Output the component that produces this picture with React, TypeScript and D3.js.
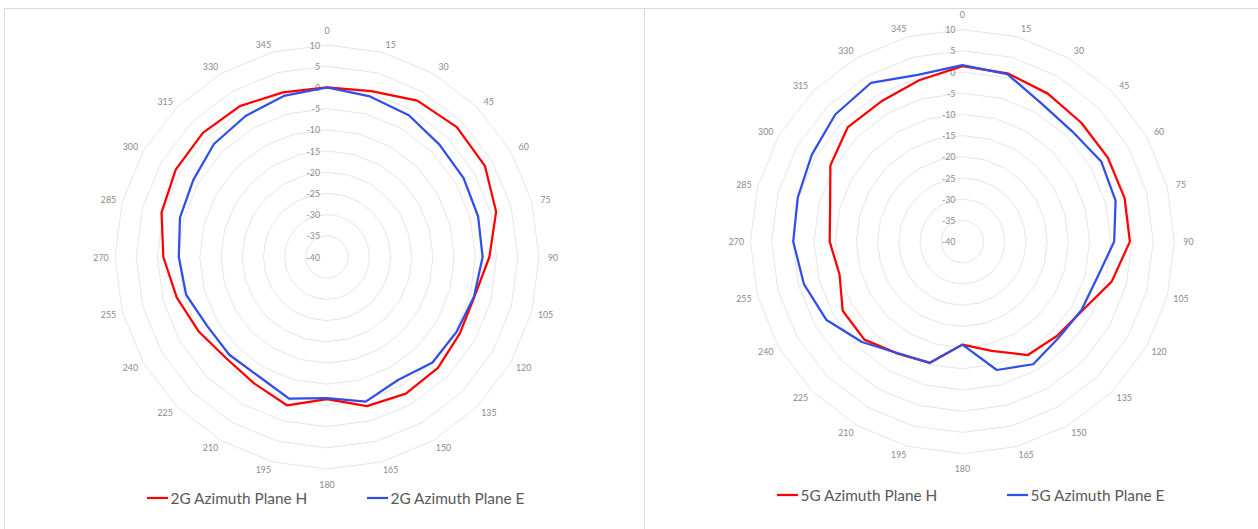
import React from 'react';
import * as d3 from 'd3';

const angles = [0, 15, 30, 45, 60, 75, 90, 105, 120, 135, 150, 165, 180, 195, 210, 225, 240, 255, 270, 285, 300, 315, 330, 345];

const plane2gH = [0, 0.5, 2.6, 3.3, 3.0, 1.3, -1.7, -4.0, -3.85, -3.0, -2.8, -3.6, -6.5, -3.75, -5.6, -6.3, -5.0, -3.3, -1.4, 0.4, 1.2, 1.4, 1.1, 0.2];
const plane2gE = [0, -0.8, -1.4, -2.5, -2.8, -3.1, -3.3, -4.1, -4.7, -4.8, -6.5, -4.7, -6.7, -5.4, -7.6, -7.4, -7.4, -5.6, -5.05, -4.1, -3.6, -2.3, -1.6, -0.66];
const plane5gH = [1.4, 1.1, 0.3, -0.35, -0.4, -0.4, -0.5, -3.55, -7.4, -8.5, -9.1, -13.3, -15.7, -10.4, -9.5, -7.3, -7.4, -10.0, -8.7, -7.7, -4.05, -1.8, -1.8, -0.6];
const plane5gE = [1.6, 0.9, -2.5, -3.3, -2.2, -2.6, -4.2, -7.1, -7.6, -7.9, -6.6, -8.65, -15.7, -10.4, -9.6, -6.5, -3.0, -1.3, -0.1, 0.2, 1.0, 2.4, 3.2, 0.7];

const radialTicks = [10, 5, 0, -5, -10, -15, -20, -25, -30, -35, -40];
const seriesNames2g = ['2G Azimuth Plane H', '2G Azimuth Plane E'];
const seriesNames5g = ['5G Azimuth Plane H', '5G Azimuth Plane E'];

const RED = '#ff0000';
const BLUE = '#2f4fe6';
const GRID = '#e6e6e6';
const TEXT = '#8a8a8a';
const FONT = 'Lato, "Open Sans", sans-serif';

const R = 212;

const rScale = d3.scaleLinear().domain([-40, 10]).range([0, R]);
const aScale = d3.scaleLinear().domain([0, 360]).range([0, 2 * Math.PI]);

const charts = [
  {
    cx: 327, cy: 257,
    series: [
      { name: seriesNames2g[0], values: plane2gH, color: RED },
      { name: seriesNames2g[1], values: plane2gE, color: BLUE },
    ],
    legendY: 498, legendX: [147, 367],
  },
  {
    cx: 962.4, cy: 241.6,
    series: [
      { name: seriesNames5g[0], values: plane5gH, color: RED },
      { name: seriesNames5g[1], values: plane5gE, color: BLUE },
    ],
    legendY: 495, legendX: [777, 1007],
  },
];

const radial = d3.lineRadial<number>()
  .angle((_, i) => aScale(angles[i]))
  .radius((d) => rScale(d))
  .curve(d3.curveLinearClosed);

function labelPos(a: number) {
  const th = aScale(a);
  let s = Math.sin(th);
  let c = Math.cos(th);
  if (Math.abs(s) < 1e-9) s = 0;
  if (Math.abs(c) < 1e-9) c = 0;
  const vx = R * s;
  const vy = -R * c;
  const dx = s === 0 ? 0 : Math.sign(s) * (7 + 7 * Math.abs(s));
  const dy = s === 0 ? -15 * Math.sign(c) : -8.5 * c;
  return [vx + dx, vy + dy];
}

function Radar({ chart }: { chart: typeof charts[number] }) {
  const { cx, cy } = chart;
  return (
    <g>
      <g transform={`translate(${cx},${cy})`}>
        {radialTicks.filter((t) => t > -40).map((t) => (
          <path key={t} d={radial(angles.map(() => t)) || ''} fill="none" stroke={GRID} strokeWidth={1} />
        ))}
        {radialTicks.map((t) => (
          <text key={'t' + t} x={-7} y={-rScale(t)} textAnchor="end" dominantBaseline="central"
            fontFamily={FONT} fontSize={8.8} fill={TEXT}>{t}</text>
        ))}
        {angles.map((a) => {
          const [x, y] = labelPos(a);
          return (
            <text key={'a' + a} x={x} y={y} textAnchor="middle"
              dominantBaseline="central" fontFamily={FONT} fontSize={8.8} fill={TEXT}>{a}</text>
          );
        })}
        {chart.series.map((s) => (
          <path key={s.name} d={radial(s.values) || ''} fill="none" stroke={s.color} strokeWidth={2.25} strokeLinejoin="round" />
        ))}
      </g>
      {chart.series.map((s, i) => (
        <g key={'l' + s.name}>
          <line x1={chart.legendX[i]} x2={chart.legendX[i] + 21} y1={chart.legendY} y2={chart.legendY} stroke={s.color} strokeWidth={2.25} />
          <text x={chart.legendX[i] + 23.5} y={chart.legendY} dominantBaseline="central" fontFamily={FONT} fontSize={15.4} fill="#595959">{s.name}</text>
        </g>
      ))}
    </g>
  );
}

export default function App() {
  return (
    <svg width={1258} height={529} style={{ position: 'absolute', left: 0, top: 0, background: '#fff' }}>
      <rect x={0} y={0} width={1258} height={529} fill="#fff" />
      <line x1={4} x2={1258} y1={8.5} y2={8.5} stroke="#d9d9d9" strokeWidth={1} />
      <line x1={4.5} x2={4.5} y1={8} y2={529} stroke="#d9d9d9" strokeWidth={1} />
      <line x1={644.5} x2={644.5} y1={8} y2={529} stroke="#d9d9d9" strokeWidth={1} />
      {charts.map((c, i) => <Radar key={i} chart={c} />)}
    </svg>
  );
}
